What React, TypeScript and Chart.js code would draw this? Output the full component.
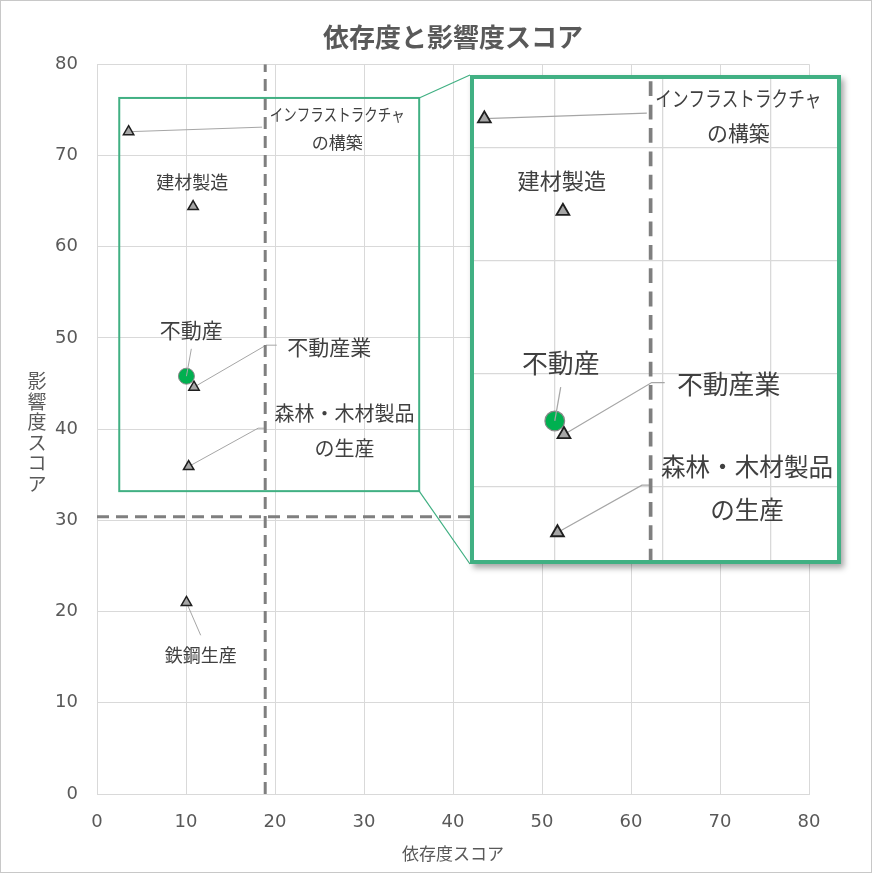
import { useEffect, useRef } from 'react';
import { Chart, registerables } from 'chart.js';

Chart.register(...registerables);

// 業種ごとのスコア
const industries = ['インフラストラクチャ\nの構築', '建材製造', '不動産業', '森林・木材製品\nの生産', '鉄鋼生産'];
const dependence = [3.55, 10.8, 10.9, 10.3, 10.05];
const impact = [72.6, 64.4, 44.6, 35.9, 21.0];

// 強調表示する点
const focusName = '不動産';
const focusDependence = [10.05];
const focusImpact = [45.8];

// 平均線
const dependenceAverage = 18.9;
const impactAverage = 30.4;

const axisTicks = [0, 10, 20, 30, 40, 50, 60, 70, 80];
const chartTitle = '依存度と影響度スコア';
const xTitle = '依存度スコア';
const yTitle = '影響度スコア';

// 拡大表示する範囲（軸の単位）
const zoomRegion = { xMin: 2.5, xMax: 36.2, yMin: 33.2, yMax: 76.3 };

// ラベルの配置（点からのずれ、軸の単位）
type LabelLayout = {
    dx: number;
    dy: number;
    size: number;
    gap?: number;
    fit?: number;
    leader?: number[][];
    over?: boolean;
};

const industryLabels: LabelLayout[] = [
    { dx: 23.45, dy: 0.3, size: 17, gap: 28, fit: 135, leader: [[15.0, 0.5]] },
    { dx: -0.1, dy: 2.7, size: 18 },
    { dx: 15.2, dy: 4.45, size: 21, leader: [[8.1, 4.6], [9.3, 4.6]] },
    { dx: 17.5, dy: 3.9, size: 20, gap: 35, fit: 140, leader: [[7.8, 4.2], [8.5, 4.2]] },
    { dx: 1.6, dy: -5.8, size: 18, leader: [[1.6, -3.6]] },
];
const focusLabel: LabelLayout = { dx: 0.55, dy: 5.1, size: 21, leader: [[0.55, 3.0]], over: true };

const GREEN = '#41b083';
const CJK = '"Noto Sans CJK JP", sans-serif';
const INSET_K = 1.23;
const insetFrame = { left: 470, top: 75, width: 363, height: 481, border: 4 };

const axisMin = axisTicks[0];
const axisMax = axisTicks[axisTicks.length - 1];
const axisStep = axisTicks[1] - axisTicks[0];

function labelItems() {
    const items = industries.map((text, i) => ({ text, x: dependence[i], y: impact[i], layout: industryLabels[i] }));
    items.push({ text: focusName, x: focusDependence[0], y: focusImpact[0], layout: focusLabel });
    return items;
}

function drawLeaders(chart: any, k: number, over: boolean) {
    const { ctx, scales: { x, y } } = chart;
    ctx.save();
    ctx.strokeStyle = '#a6a6a6';
    ctx.lineWidth = k;
    for (const it of labelItems()) {
        const L = it.layout;
        if (!L.leader || !!L.over !== over) continue;
        ctx.beginPath();
        ctx.moveTo(x.getPixelForValue(it.x), y.getPixelForValue(it.y));
        for (const [dx, dy] of L.leader) {
            ctx.lineTo(x.getPixelForValue(it.x + dx), y.getPixelForValue(it.y + dy));
        }
        ctx.stroke();
    }
    ctx.restore();
}

function drawLabels(chart: any, k: number) {
    const { ctx, scales: { x, y } } = chart;
    ctx.save();
    ctx.fillStyle = '#404040';
    ctx.textAlign = 'center';
    ctx.textBaseline = 'middle';
    for (const it of labelItems()) {
        const L = it.layout;
        const lines = it.text.split('\n');
        const cx = x.getPixelForValue(it.x + L.dx);
        const cy = y.getPixelForValue(it.y + L.dy);
        const gap = (L.gap ?? 0) * k;
        ctx.font = `${L.size * k}px ${CJK}`;
        lines.forEach((line, j) => {
            const ly = cy + (j - (lines.length - 1) / 2) * gap;
            if (L.fit && j === 0) ctx.fillText(line, cx, ly, L.fit * k);
            else ctx.fillText(line, cx, ly);
        });
    }
    ctx.restore();
}

const pointLabelsPlugin = {
    id: 'pointLabels',
    beforeDatasetsDraw(chart: any, _args: any, opts: any) {
        drawLeaders(chart, opts.k, false);
    },
    afterDatasetsDraw(chart: any, _args: any, opts: any) {
        drawLeaders(chart, opts.k, true);
        drawLabels(chart, opts.k);
    },
};

const framePlugin = {
    id: 'frame',
    beforeDraw(chart: any) {
        const { ctx, width, height } = chart;
        ctx.save();
        ctx.fillStyle = '#ffffff';
        ctx.fillRect(0, 0, width, height);
        ctx.strokeStyle = '#c8c8c8';
        ctx.lineWidth = 1;
        ctx.strokeRect(0.5, 0.5, width - 2, height - 2);
        ctx.restore();
    },
    afterDatasetsDraw(chart: any) {
        const { ctx, scales: { x, y } } = chart;
        const l = x.getPixelForValue(zoomRegion.xMin);
        const r = x.getPixelForValue(zoomRegion.xMax);
        const t = y.getPixelForValue(zoomRegion.yMax);
        const b = y.getPixelForValue(zoomRegion.yMin);
        ctx.save();
        ctx.strokeStyle = GREEN;
        ctx.lineWidth = 2;
        ctx.strokeRect(l, t, r - l, b - t);
        ctx.lineWidth = 1.2;
        ctx.beginPath();
        ctx.moveTo(r, t);
        ctx.lineTo(insetFrame.left, insetFrame.top);
        ctx.moveTo(r, b);
        ctx.lineTo(insetFrame.left, insetFrame.top + insetFrame.height + insetFrame.border * 2);
        ctx.stroke();
        ctx.restore();
    },
    afterDraw(chart: any) {
        // 縦書きの軸タイトル
        const { ctx } = chart;
        ctx.save();
        ctx.fillStyle = '#595959';
        ctx.font = `19px ${CJK}`;
        ctx.textAlign = 'center';
        ctx.textBaseline = 'middle';
        const chars = yTitle.split('');
        chars.forEach((c, i) => {
            ctx.fillText(c, 37, 432.5 + (i - (chars.length - 1) / 2) * 20.5);
        });
        ctx.restore();
    },
};

function makeDatasets(k: number) {
    return [
        {
            label: 'industries',
            data: dependence.map((x, i) => ({ x, y: impact[i] })),
            pointStyle: 'triangle',
            pointRadius: 6 * k,
            backgroundColor: '#a6a6a6',
            borderColor: '#1f1f1f',
            borderWidth: 1.5 * k,
            showLine: false,
        },
        {
            label: focusName,
            data: focusDependence.map((x, i) => ({ x, y: focusImpact[i] })),
            pointStyle: 'circle',
            pointRadius: 8 * k,
            backgroundColor: '#00b050',
            borderColor: '#8a8a8a',
            borderWidth: k,
            showLine: false,
        },
        {
            label: 'dependenceAverage',
            data: [{ x: dependenceAverage, y: axisMin }, { x: dependenceAverage, y: axisMax }],
            showLine: true,
            pointRadius: 0,
            borderColor: '#7f7f7f',
            borderWidth: 3 * k,
            borderDash: [12 * k, 7 * k],
        },
        {
            label: 'impactAverage',
            data: [{ x: axisMin, y: impactAverage }, { x: axisMax, y: impactAverage }],
            showLine: true,
            pointRadius: 0,
            borderColor: '#7f7f7f',
            borderWidth: 3 * k,
            borderDash: [12 * k, 7 * k],
        },
    ];
}

export default function App() {
    const mainRef = useRef<HTMLCanvasElement>(null);
    const insetRef = useRef<HTMLCanvasElement>(null);

    useEffect(() => {
        if (!mainRef.current || !insetRef.current) return;

        const tickFont = { family: '"DejaVu Sans", sans-serif', size: 18 };

        const main = new Chart(mainRef.current, {
            type: 'scatter',
            data: { datasets: makeDatasets(1) as any },
            options: {
                animation: false,
                responsive: false,
                events: [],
                layout: { padding: { left: 20, right: 64, top: 3, bottom: 10 }, autoPadding: false },
                plugins: {
                    legend: { display: false },
                    tooltip: { enabled: false },
                    title: {
                        display: true,
                        text: chartTitle,
                        fullSize: false,
                        color: '#595959',
                        font: { family: CJK, size: 26, weight: 'bold' },
                        padding: { top: 19, bottom: 11 },
                    },
                    pointLabels: { k: 1 },
                } as any,
                scales: {
                    x: {
                        type: 'linear',
                        min: axisMin,
                        max: axisMax,
                        ticks: { stepSize: axisStep, color: '#595959', font: tickFont, padding: 18 },
                        grid: { color: '#d9d9d9', drawTicks: false },
                        border: { color: '#d9d9d9' },
                        title: {
                            display: true,
                            text: xTitle,
                            color: '#595959',
                            font: { family: CJK, size: 17 },
                            padding: { top: 0, bottom: 0 },
                        },
                        afterFit: (s: any) => { s.height = 70; },
                    },
                    y: {
                        type: 'linear',
                        min: axisMin,
                        max: axisMax,
                        ticks: { stepSize: axisStep, color: '#595959', font: tickFont, padding: 19 },
                        grid: { color: '#d9d9d9', drawTicks: false },
                        border: { color: '#d9d9d9' },
                        afterFit: (s: any) => { s.width = 77; },
                    },
                },
            },
            plugins: [framePlugin, pointLabelsPlugin],
        });

        const gridTicks = (s: any) => {
            s.ticks = axisTicks.filter((v) => v > s.min && v < s.max).map((v) => ({ value: v }));
        };

        const inset = new Chart(insetRef.current, {
            type: 'scatter',
            data: { datasets: makeDatasets(INSET_K) as any },
            options: {
                animation: false,
                responsive: false,
                events: [],
                layout: { padding: 0, autoPadding: false },
                plugins: {
                    legend: { display: false },
                    tooltip: { enabled: false },
                    pointLabels: { k: INSET_K },
                } as any,
                scales: {
                    x: {
                        type: 'linear',
                        min: zoomRegion.xMin,
                        max: zoomRegion.xMax,
                        ticks: { display: false },
                        grid: { color: '#d9d9d9', drawTicks: false, lineWidth: 1.3 },
                        border: { display: false },
                        afterBuildTicks: gridTicks,
                        afterFit: (s: any) => { s.height = 0; },
                    },
                    y: {
                        type: 'linear',
                        min: zoomRegion.yMin,
                        max: zoomRegion.yMax,
                        ticks: { display: false },
                        grid: { color: '#d9d9d9', drawTicks: false, lineWidth: 1.3 },
                        border: { display: false },
                        afterBuildTicks: gridTicks,
                        afterFit: (s: any) => { s.width = 0; },
                    },
                },
            },
            plugins: [pointLabelsPlugin],
        });

        return () => {
            main.destroy();
            inset.destroy();
        };
    }, []);

    return (
        <div style={{ position: 'absolute', left: 0, top: 0, width: 873, height: 874 }}>
            <canvas ref={mainRef} width={873} height={874} style={{ position: 'absolute', left: 0, top: 0 }} />
            <div
                style={{
                    position: 'absolute',
                    left: insetFrame.left,
                    top: insetFrame.top,
                    width: insetFrame.width,
                    height: insetFrame.height,
                    border: `${insetFrame.border}px solid ${GREEN}`,
                    overflow: 'hidden',
                    background: '#ffffff',
                    boxShadow: '3px 4px 6px rgba(0,0,0,0.35)',
                }}
            >
                <canvas ref={insetRef} width={365} height={486} style={{ position: 'absolute', left: -1, top: -2 }} />
            </div>
        </div>
    );
}
